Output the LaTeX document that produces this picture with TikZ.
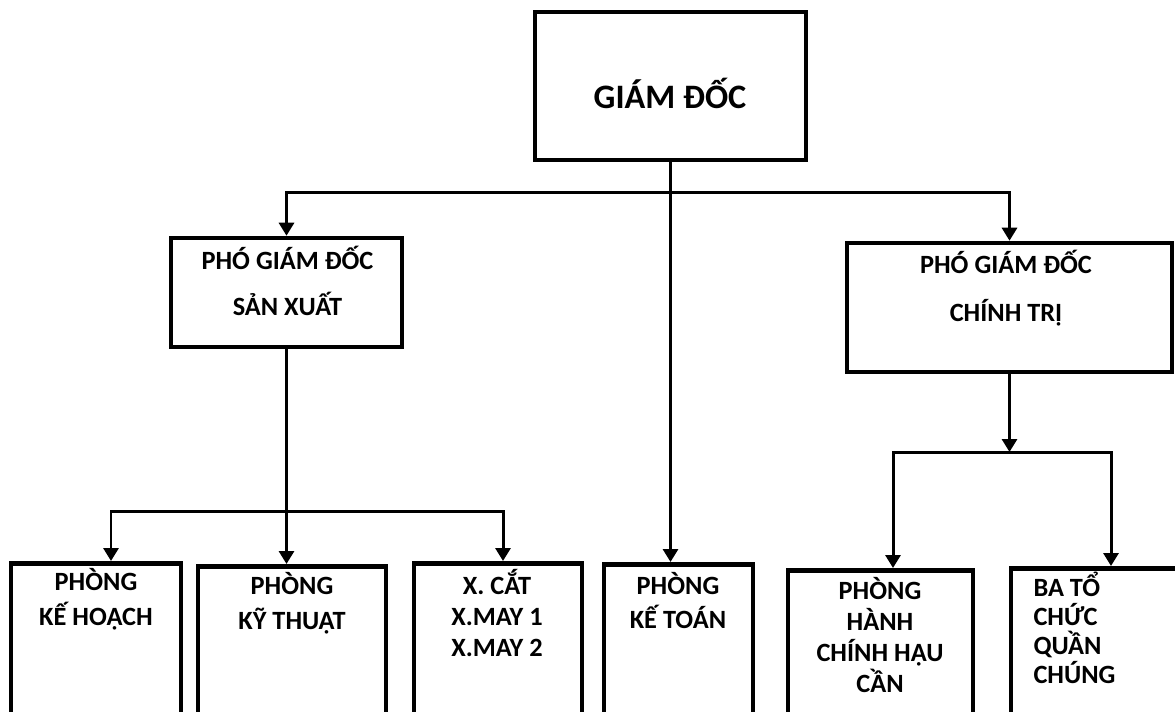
\documentclass[tikz,border=0pt]{standalone}
\usepackage{fontspec}
\setmainfont{Carlito}
\usetikzlibrary{arrows.meta, positioning, calc}
\tikzset{
  every picture/.style={line width=1.7pt},
  box/.style={draw, line width=2.6pt, inner sep=0pt},
  arrow/.style={-{Triangle[length=2.6mm, width=3mm]}, line width=1.7pt},
  lbl/.style={font=\bfseries\fontsize{15}{#1}\selectfont, align=center, inner sep=0pt},
  lbl/.default=19.8,
  big/.style={font=\bfseries\fontsize{19.5}{24}\selectfont, inner sep=0pt},
}

\begin{document}
\begin{tikzpicture}
  \useasboundingbox (0,0) rectangle (23.5,-14.22);
  \clip (0,0) rectangle (23.5,-14.22);
  % director
  \node[box, minimum width=5.42cm, minimum height=2.96cm] (gd) at (13.41,-1.72) {};
  \node[big] (gd-t) at (13.4,-1.86) {GIÁM ĐỐC};
  % deputies
  \node[box, minimum width=4.62cm, minimum height=2.18cm] (psx) at (5.73,-5.85) {};
  \node[lbl=26.6] (psx-t) at (5.75,-5.62) {PHÓ GIÁM ĐỐC\\SẢN XUẤT};
  \node[box, minimum width=6.5cm, minimum height=2.58cm] (pct) at (20.19,-6.15) {};
  \node[lbl=27.2] (pct-t) at (20.12,-5.76) {PHÓ GIÁM ĐỐC\\CHÍNH TRỊ};
  % departments, they run off the bottom edge
  \node[box, minimum width=3.4cm, minimum height=4cm, anchor=north] (kh) at (1.92,-11.22) {};
  \node[lbl] (kh-t) at (1.92,-11.99) {PHÒNG\\KẾ HOẠCH};
  \node[box, minimum width=3.76cm, minimum height=4cm, anchor=north] (kt) at (5.84,-11.28) {};
  \node[lbl] (kt-t) at (5.84,-12.06) {PHÒNG\\KỸ THUẬT};
  \node[box, minimum width=3.36cm, minimum height=4cm, anchor=north] (xc) at (9.96,-11.22) {};
  \node[lbl=17.9] (xc-t) at (9.94,-12.26) {X. CẮT\\X.MAY 1\\X.MAY 2};
  \node[box, minimum width=2.98cm, minimum height=4cm, anchor=north] (kto) at (13.57,-11.24) {};
  \node[lbl] (kto-t) at (13.56,-12.01) {PHÒNG\\KẾ TOÁN};
  \node[box, minimum width=3.7cm, minimum height=4cm, anchor=north] (hc) at (17.61,-11.36) {};
  \node[lbl=17.6] (hc-t) at (17.6,-12.7) {PHÒNG\\HÀNH\\CHÍNH HẬU\\CẦN};
  \node[box, minimum width=4cm, minimum height=4cm, anchor=north] (btc) at (22.22,-11.32) {};
  \node[lbl=16.4, align=left, anchor=west] (btc-t) at (20.64,-12.56) {BA TỔ\\CHỨC\\QUẦN\\CHÚNG};
  % connectors
  \coordinate (bus) at (13.41,-3.84);
  \coordinate (sxbus) at (5.73,-10.22);
  \coordinate (ctbus) at (20.19,-9.04);
  \draw[arrow] (gd.south) -- (gd.south |- kto.north);
  \draw[arrow] (bus) -| (psx.north);
  \draw[arrow] (bus) -| (pct.north);
  \draw[arrow] (psx.south) -- (psx.south |- kt.north);
  \draw[arrow] (sxbus) -| ([xshift=3mm]kh.north);
  \draw[arrow] (sxbus) -| ([xshift=1mm]xc.north);
  \draw[arrow] (pct.south) -- (ctbus);
  \draw[arrow] (ctbus) -| ([xshift=2.5mm]hc.north);
  \draw[arrow] (ctbus) -| (btc.north);
\end{tikzpicture}
\end{document}
